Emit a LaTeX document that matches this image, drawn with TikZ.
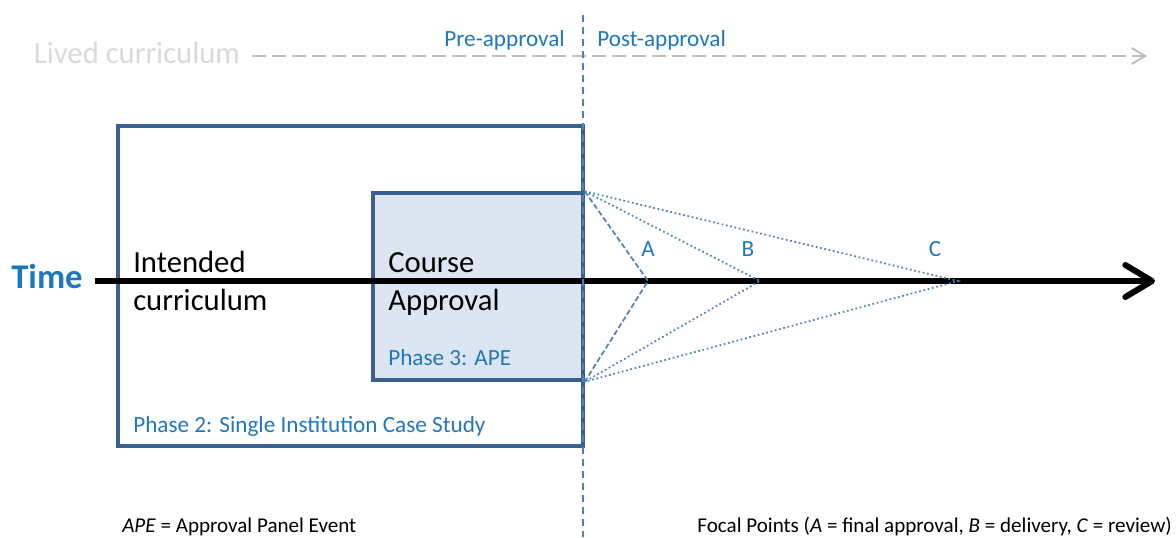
\documentclass[tikz,border=0pt]{standalone}
\usepackage{fontspec}
\setmainfont{Carlito}
\usetikzlibrary{arrows.meta, positioning, fit}
\definecolor{txtblue}{RGB}{31,119,190}
\definecolor{boxedge}{RGB}{60,95,145}
\definecolor{boxfill}{RGB}{220,230,242}
\definecolor{focal}{RGB}{79,129,189}
\definecolor{lived}{RGB}{217,217,217}
\definecolor{livedline}{RGB}{191,191,191}

\begin{document}
\begin{tikzpicture}[x=0.75pt, y=-0.75pt,
        phasebox/.style={draw=boxedge, line width=2.6pt, inner sep=0pt},
        bigtext/.style={font=\fontsize{23}{28.5}\selectfont, align=left, inner sep=0pt},
        bluetext/.style={font=\fontsize{17.4}{20}\selectfont, text=txtblue, inner sep=0pt},
        note/.style={font=\fontsize{15.8}{18}\selectfont, inner sep=0pt},
        focalline/.style={draw=focal, line width=1.3pt},
    ]
        \useasboundingbox (0,0) rectangle (1176,537);

        % Phase boxes
        \node[phasebox, fit={(118,126) (583,446)}] (case) {};
        \node[phasebox, fill=boxfill, fit={(373,193) (583,380)}] (ape) {};

        % Lived curriculum
        \node[bigtext, text=lived] (lived) at (137,53) {Lived curriculum};
        \coordinate (livedend) at (1147,56);
        \draw[livedline, line width=1.5pt, dash pattern=on 10pt off 5pt,
              -{Straight Barb[length=10pt,width=12pt]}]
            ([xshift=9pt, yshift=-2.25pt]lived.east) -- (livedend);

        % Time axis
        \node[font=\fontsize{26}{30}\selectfont\bfseries, text=txtblue, inner sep=0pt] (time) at (47,276) {Time};
        \coordinate (timestart) at (95,281);
        \coordinate (timeend) at (1155,281);
        \draw[line width=4.5pt, -{Straight Barb[length=20pt,width=24pt,round]}] (timestart) -- (timeend);

        \node[bigtext, anchor=west] (intended) at (133,281) {Intended\\curriculum};
        \node[bigtext, anchor=west] (course) at (388,284) {Course\\Approval};
        \node[bluetext, anchor=base west] (apelbl) at (388,365) {Phase 3: APE};
        \node[bluetext, anchor=base west] (caselbl) at (133,432) {Phase 2: Single Institution Case Study};

        % Pre/post divider
        \coordinate (divtop) at (583,15);
        \coordinate (divbot) at (583,537);
        \draw[focalline, line width=1.1pt, dash pattern=on 5pt off 4pt] (divtop) -- (divbot);
        \node[bluetext, anchor=base east] (pre) at (565,46) {Pre-approval};
        \node[bluetext, anchor=base west] (post) at (597,46) {Post-approval};

        % Focal points
        \coordinate (ftop) at (ape.north east);
        \coordinate (fbot) at (ape.south east);
        \coordinate (fA) at (648,281);
        \coordinate (fB) at (760,281);
        \coordinate (fC) at (958,281);
        \draw[focalline, dash pattern=on 4pt off 2pt] (ftop) -- (fA) -- (fbot);
        \draw[focalline, dotted] (ftop) -- (fB) -- (fbot);
        \draw[focalline, dotted] (ftop) -- (fC) -- (fbot);
        \node[bluetext, anchor=base] (lblA) at (648,256) {A};
        \node[bluetext, anchor=base] (lblB) at (748,256) {B};
        \node[bluetext, anchor=base] (lblC) at (935,256) {C};

        % Notes
        \node[note, anchor=base west] (apenote) at (122,532) {\textit{APE} = Approval Panel Event};
        \node[note, anchor=base east] (focalnote) at (1172,532)
            {Focal Points (\textit{A} = final approval, \textit{B} = delivery, \textit{C} = review)};
    \end{tikzpicture}
\end{document}
